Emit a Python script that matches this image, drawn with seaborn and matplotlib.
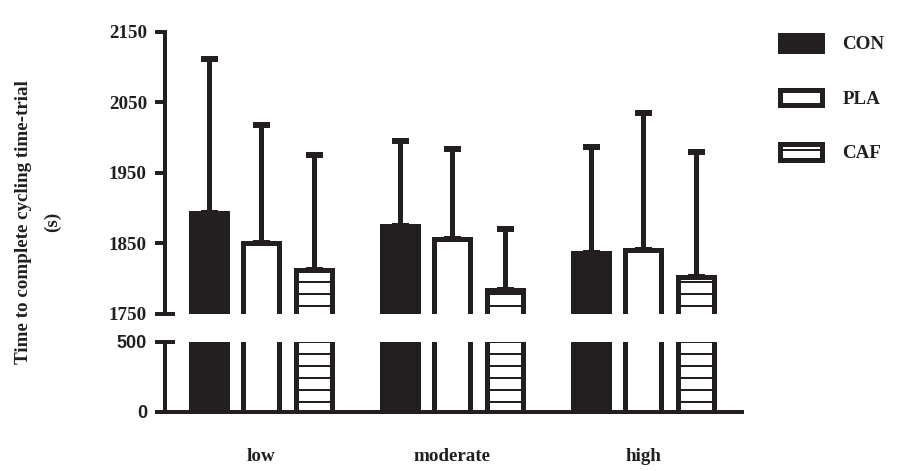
import numpy as np
import pandas as pd
import matplotlib
matplotlib.use("Agg")
import matplotlib.pyplot as plt
from matplotlib.patches import Patch
import seaborn as sns

# Exercise intensities and supplement conditions
intensities = ["low", "moderate", "high"]
conditions = ["CON", "PLA", "CAF"]

# Mean time to complete the time-trial (s) per intensity
con_mean = [1893, 1874, 1836]
pla_mean = [1850, 1856, 1840]
caf_mean = [1812, 1784, 1802]

# Standard deviations (upper error bars only)
con_sd = [218, 121, 151]
pla_sd = [168, 128, 195]
caf_sd = [164, 86, 177]

top_ticks = [1750, 1850, 1950, 2050, 2150]
bottom_ticks = [0, 500]

INK = "#231f20"
DPI = 72
W, H = 907, 471
FS = 19

sns.set_style("white")
plt.rcParams["font.family"] = ["Liberation Serif", "DejaVu Serif"]
plt.rcParams["font.weight"] = "bold"
plt.rcParams["hatch.linewidth"] = 2.0
plt.rcParams["hatch.color"] = INK

rows = []
for cond, means, sds in zip(conditions, [con_mean, pla_mean, caf_mean],
                            [con_sd, pla_sd, caf_sd]):
    for lvl, m, s in zip(intensities, means, sds):
        rows.append({"intensity": lvl, "condition": cond, "time": m, "sd": s})
df = pd.DataFrame(rows)

palette = {"CON": INK, "PLA": "white", "CAF": "white"}

fig = plt.figure(figsize=(W / DPI, H / DPI), dpi=DPI)
left, width = 165 / W, 577 / W
ax_top = fig.add_axes([left, 1 - 314 / H, width, 282.3 / H])
ax_bot = fig.add_axes([left, 1 - 412 / H, width, 70 / H])

for ax in (ax_top, ax_bot):
    sns.barplot(data=df, x="intensity", y="time", hue="condition",
                order=intensities, hue_order=conditions, palette=palette,
                saturation=1, edgecolor=INK, linewidth=5, width=0.825,
                gap=0.315, errorbar=None, legend=False, ax=ax)
    for p in ax.containers[2]:
        p.set_hatch("-")
    for cont, cond in zip(list(ax.containers), conditions):
        sub = df[df["condition"] == cond].set_index("intensity").loc[intensities]
        xs = [p.get_x() + p.get_width() / 2 for p in cont]
        ys = [p.get_height() for p in cont]
        ax.errorbar(xs, ys, yerr=[np.zeros(len(xs)), sub["sd"].values],
                    fmt="none", ecolor=INK, elinewidth=5, capsize=8.5,
                    capthick=6, zorder=0.5)
    ax.set_xlim(-0.503, 2.518)
    ax.set_xlabel("")
    ax.set_ylabel("")
    for side in ("top", "right"):
        ax.spines[side].set_visible(False)
    for side in ("left", "bottom"):
        ax.spines[side].set_linewidth(4)
        ax.spines[side].set_color(INK)
    ax.tick_params(axis="y", direction="out", length=10, width=4, color=INK,
                   labelsize=FS, pad=8, labelcolor=INK, left=True)

# upper panel
ax_top.set_ylim(1750, 2150)
ax_top.set_yticks(top_ticks)
ax_top.spines["bottom"].set_visible(False)
ax_top.set_xticks([])

# lower panel
ax_bot.set_ylim(0, 500)
ax_bot.set_yticks(bottom_ticks)
for lbl in ax_bot.get_yticklabels():
    lbl.set_fontfamily("Liberation Sans")
    lbl.set_fontweight("bold")
    lbl.set_fontsize(FS - 1)
ax_bot.tick_params(axis="x", length=0, pad=36, labelsize=FS, labelcolor=INK)
for lbl in ax_bot.get_xticklabels():
    lbl.set_fontweight("bold")

# break marks on the y axis
cap = 10 / 577
ax_top.plot([0, cap], [0, 0], transform=ax_top.transAxes, color=INK, lw=4,
            clip_on=False, solid_capstyle="butt")
ax_bot.plot([0, cap], [1, 1], transform=ax_bot.transAxes, color=INK, lw=4,
            clip_on=False, solid_capstyle="butt")

fig.text(38 / W, 1 - 222 / H, "Time to complete cycling time-trial\n(s)",
         rotation=90, ha="center", va="center", fontsize=FS,
         fontweight="bold", linespacing=1.9, multialignment="center",
         color=INK)

handles = [
    Patch(facecolor=INK, edgecolor=INK, linewidth=5),
    Patch(facecolor="white", edgecolor=INK, linewidth=5),
    Patch(facecolor="white", edgecolor=INK, linewidth=5, hatch="-"),
]
fig.legend(handles=handles, labels=conditions, loc="upper left",
           bbox_to_anchor=(779.5 / W, 1 - 35 / H), frameon=False,
           fontsize=FS, handlelength=42 / FS, handleheight=17 / FS,
           labelspacing=1.9, handletextpad=1.1, borderpad=0,
           borderaxespad=0, labelcolor=INK)

fig.savefig("out.png", dpi=DPI)
